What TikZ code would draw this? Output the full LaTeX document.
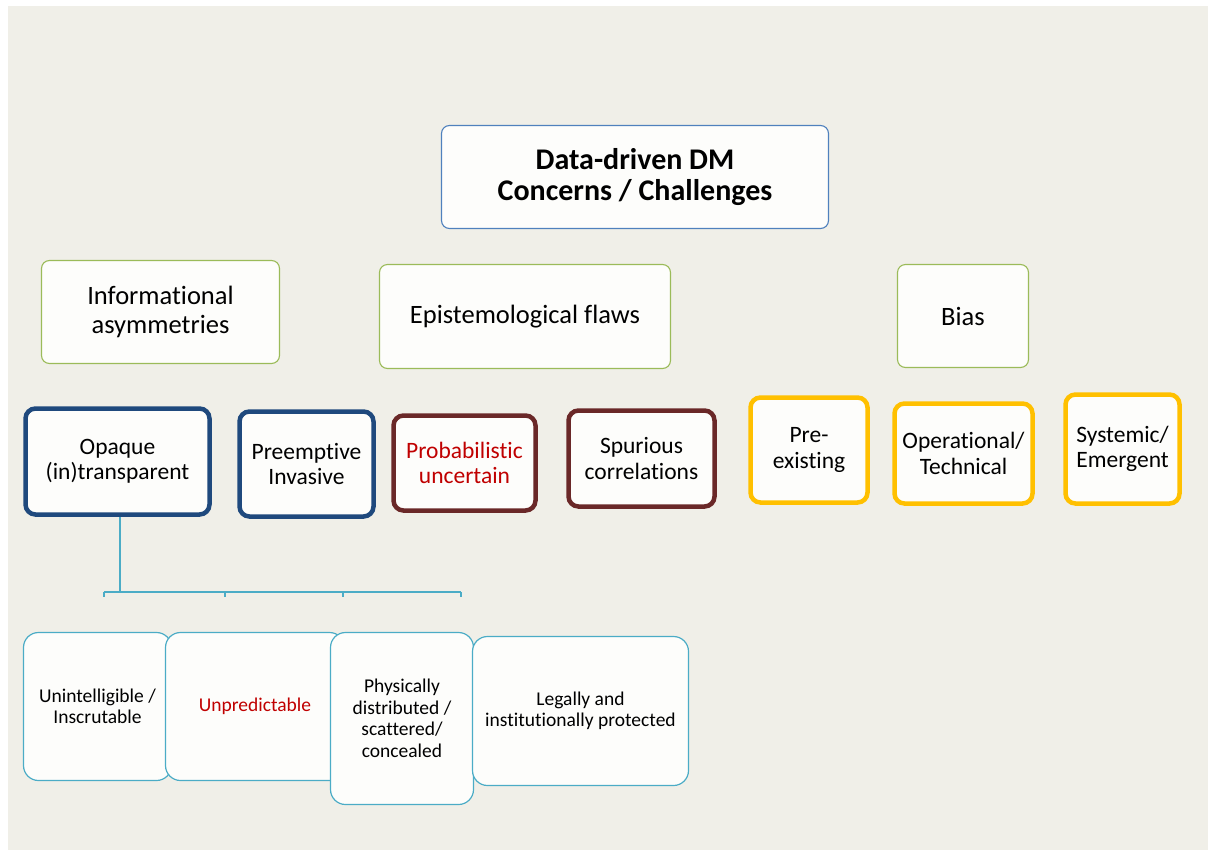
\documentclass[tikz,border=0pt]{standalone}
\usepackage{fontspec}
\setmainfont{Carlito}[Ligatures=NoCommon]
\definecolor{bgc}{HTML}{F0EFE8}
\definecolor{boxfill}{HTML}{FDFDFB}
\definecolor{rootblue}{HTML}{4F81BD}
\definecolor{catgreen}{HTML}{9BBB59}
\definecolor{navyc}{HTML}{1F497D}
\definecolor{brownc}{HTML}{6A2828}
\definecolor{goldc}{HTML}{FFC000}
\definecolor{ltblue}{HTML}{4BACC6}
\definecolor{redtxt}{HTML}{C00000}
\tikzset{
  box/.style={draw, fill=boxfill, rounded corners=8pt, align=center, inner sep=0pt, text=black},
  rootbox/.style={box, draw=rootblue, line width=1.1pt, font=\fontsize{30}{31.5}\selectfont\bfseries},
  catbox/.style={box, draw=catgreen, line width=1.1pt, font=\fontsize{26.5}{29}\selectfont},
  navybox/.style={box, draw=navyc, line width=4.5pt, rounded corners=10pt, font=\fontsize{23.5}{25.5}\selectfont},
  brownbox/.style={box, draw=brownc, line width=4.5pt, rounded corners=10pt, font=\fontsize{23.5}{25.5}\selectfont},
  goldbox/.style={box, draw=goldc, line width=4.5pt, rounded corners=10pt, font=\fontsize{23.5}{25.5}\selectfont},
  leafbox/.style={box, draw=ltblue, line width=1.2pt, rounded corners=15pt, font=\fontsize{19.5}{21.5}\selectfont},
  conn/.style={draw=ltblue, line width=2pt},
  connthin/.style={draw=ltblue, line width=1.3pt},
}
\begin{document}
\begin{tikzpicture}[x=1pt,y=-1pt]
\useasboundingbox (0,0) rectangle (1208,852);
\fill[white] (0,0) rectangle (1208,852);
\fill[bgc] (8,6) rectangle (1208,850);

\node[rootbox, minimum width=387pt, minimum height=103pt] (root) at (635,177) {Data-driven DM\\Concerns / Challenges};

\node[catbox, minimum width=238pt, minimum height=103pt] (info) at (160.5,312) {Informational\\asymmetries};
\node[catbox, minimum width=291pt, minimum height=104pt] (epi) at (525,316.5) {Epistemological flaws};
\node[catbox, minimum width=131pt, minimum height=103pt] (bias) at (963,316) {Bias};

\node[navybox, minimum width=184pt, minimum height=106pt] (opq) at (117.5,461.5) {Opaque\\(in)transparent};
\node[navybox, minimum width=134pt, minimum height=105pt] (pre) at (306.5,464) {Preemptive\\Invasive};
\node[brownbox, minimum width=142pt, minimum height=95pt, text=redtxt] (prob) at (464.5,463) {Probabilistic\\uncertain};
\node[brownbox, minimum width=146pt, minimum height=96pt] (spur) at (641.5,458.5) {Spurious\\correlations};
\node[goldbox, minimum width=117pt, minimum height=105pt] (preex) at (809,450) {Pre-\\existing};
\node[goldbox, minimum width=138pt, minimum height=100pt] (oper) at (963.5,453.5) {Operational/\\Technical};
\node[goldbox, minimum width=114pt, minimum height=109pt] (syst) at (1122.5,449) {Systemic/\\Emergent};

\node[leafbox, minimum width=148pt, minimum height=148pt] (unint) at (97.5,706.5) {Unintelligible /\\Inscrutable};
\node[leafbox, minimum width=179pt, minimum height=148pt, text=redtxt] (unpred) at (255,706.5) {Unpredictable};
\node[leafbox, minimum width=143pt, minimum height=172pt] (phys) at (402,718.5) {Physically\\distributed /\\scattered/\\concealed};
\node[leafbox, minimum width=216pt, minimum height=149pt] (legal) at (580.5,711) {Legally and\\institutionally protected};

\coordinate (bus) at (120,592);
\coordinate (t1) at (104,592);
\coordinate (t2) at (225,592);
\coordinate (t3) at (343,592);
\coordinate (t4) at (461,592);
\coordinate (b1) at (104,597);
\coordinate (b2) at (225,597);
\coordinate (b3) at (343,597);
\coordinate (b4) at (461,597);
\draw[conn] (opq.south -| bus) -- (bus);
\draw[conn] (t1) -- (t3);
\draw[connthin] (t3) -- (t4);
\draw[connthin] (t1) -- (b1);
\draw[connthin] (t2) -- (b2);
\draw[connthin] (t3) -- (b3);
\draw[connthin] (t4) -- (b4);
\end{tikzpicture}
\end{document}
